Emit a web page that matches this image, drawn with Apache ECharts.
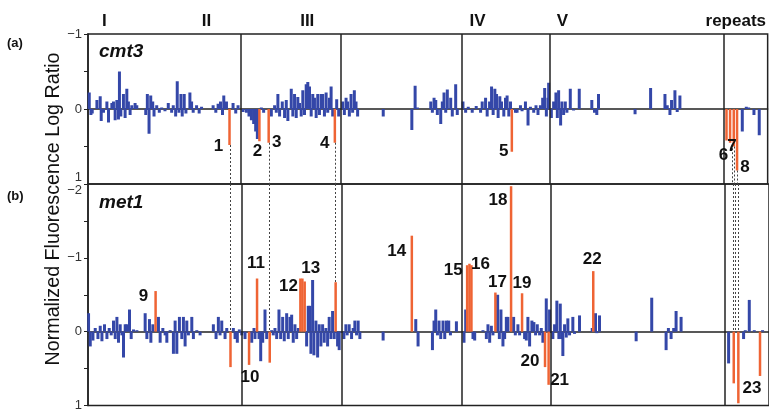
<!DOCTYPE html>
<html><head><meta charset="utf-8">
<script src="https://cdn.jsdelivr.net/npm/echarts@6/dist/echarts.min.js"></script>
<style>html,body{margin:0;padding:0;background:#fff}#c{width:769px;height:412px}</style>
</head><body><div id="c"></div>
<script>
// ---- data (x = position along genome, arbitrary units; y = log ratio) ----
const chromNames = ['I', 'II', 'III', 'IV', 'V', 'repeats'];
const chromLabelPos = [16.5, 119, 220, 391, 476, 650];
const chromBoundaries = [153.3, 253.7, 374.3, 463.3, 637.7];
const yTicksA = [-1, 0, 1];
const yTicksB = [-2, -1, 0, 1];

const cmt3Blue = [
[1,-0.22],[2.7,0.08],[4,0.06],[8.7,-0.12],[12,-0.17],[13,0.16],[15.3,0.05],[18.7,-0.1],[20.3,0.18],[23.7,-0.08],
[25.3,-0.1],[27,0.15],[28.7,-0.12],[30.3,0.14],[31.3,-0.5],[32.7,0.1],[35.3,-0.2],[37,0.12],[38.7,-0.27],[40.3,-0.1],
[42,0.08],[43.7,-0.05],[47,-0.08],[48.7,-0.05],[57.7,0.08],[59.3,-0.2],[61,0.33],[62.7,-0.18],[64.7,-0.1],[66,0.1],
[68.7,-0.05],[71.3,0.05],[73.7,-0.02],[77,0.03],[80.3,-0.08],[83.7,0.05],[85.3,-0.05],[87.7,0.1],[89.3,-0.37],[91,0.05],
[93,-0.2],[94.3,0.1],[96.3,-0.2],[98,0.06],[102,-0.22],[103.7,-0.1],[105.3,0.05],[108.7,-0.05],[111.3,0.06],[113.7,-0.03],
[125.3,-0.05],[128,0.05],[130.3,-0.07],[132.7,-0.1],[134.7,0.08],[136,-0.18],[138.7,-0.1],[145.3,-0.08],[148,0.06],[150.3,-0.05],
[155.3,0.04],[158.7,0.05],[161.3,0.1],[163.7,0.15],[166,0.2],[168,0.3],[169.7,0.4],[173.7,-0.02],[176,0.05],
[183.7,0.1],[187,-0.05],[188.7,0.05],[190.3,-0.2],[192,0.1],[194.7,-0.1],[197,0.12],[198.7,-0.12],[200.3,0.16],[203.7,-0.27],
[205.3,0.1],[207,-0.2],[208.7,0.12],[210.3,-0.16],[212,-0.08],[213.7,0.1],[215.3,-0.25],[217,0.08],[218.7,-0.33],[220.3,-0.36],
[222,-0.3],[223.7,0.1],[225.3,-0.2],[227,-0.15],[228.7,0.12],[230.3,-0.2],[232,0.08],[233.7,-0.2],[235.3,-0.2],[237,0.1],
[238.7,-0.22],[240.3,0.05],[242,-0.15],[243.7,-0.3],[245.3,0.1],[249.3,-0.13],[251.3,0.1],[255.3,-0.1],[257,0.08],[258.7,-0.15],
[260.3,-0.1],[262,0.1],[263.7,-0.2],[265.3,0.05],[267,-0.25],[268.7,-0.1],[270.3,0.1],[296,0.1],[324.7,0.28],[328,-0.31],
[330.3,-0.02],[343.7,-0.1],[345.3,0.05],[347,-0.15],[348.7,-0.12],[350.3,0.08],[353.7,0.2],[355.3,-0.1],[357,-0.22],[358.7,0.05],
[360.3,-0.26],[363.7,-0.15],[365.3,0.1],[368.7,-0.33],[370.3,0.08],[376,-0.1],[378.7,0.05],[381.3,-0.03],[385.3,0.05],[389.3,-0.04],
[393.7,0.05],[395.3,-0.1],[398.7,-0.15],[400.3,0.1],[402.7,-0.1],[404.7,-0.3],[406.3,0.08],[408,-0.27],[409.7,-0.2],[411.3,0.12],
[413,-0.17],[414.7,-0.1],[417,0.1],[418.7,-0.15],[420.3,-0.18],[422,0.1],[423.7,-0.1],[428.7,0.05],[430.3,0.05],[433.7,-0.05],
[435.3,0.03],[438.7,-0.1],[441.3,0.22],[443.7,-0.03],[447,0.05],[449.3,-0.05],[451.3,0.08],[453.7,-0.05],[456,-0.15],[458,-0.28],
[459.7,0.1],[461.3,-0.15],[462,-0.35],[464.7,0.12],[467,-0.1],[469.3,-0.22],[470.7,0.12],[472,-0.25],[474,0.22],[475.3,-0.1],
[477,0.08],[478.7,-0.1],[480.3,0.05],[483.7,-0.27],[487,0.02],[492.7,-0.27],[505.3,-0.12],[508,0.05],[510.3,0.08],[512,-0.2],
[548.7,0.07],[564.3,-0.28],[578.7,-0.2],[581,-0.05],[583.7,0.08],[585.3,-0.12],[588.7,-0.25],[591,0.04],[593.7,-0.18],
[656.3,0.3],[660.3,-0.03],[662.7,-0.02],[668,0.08],[673.3,0.35]
];
const cmt3Orange = [[142,0.48],[172,0.43],[181.3,0.45],[247.7,0.45],[425.3,0.57],[640.7,0.42],[644.3,0.45],[648,0.5],[651.3,0.82]];
const cmt3OrangeLabels = ['1','2','3','4','5','6','7','','8'];

const met1Blue = [
[0.3,-0.25],[2,0.2],[4.7,0.12],[7,-0.05],[9.7,0.1],[12,-0.08],[13.7,0.13],[16.3,-0.1],[18.7,0.1],[21,-0.05],
[23,0.05],[25.3,-0.15],[27,0.1],[28.7,-0.2],[30.3,0.15],[32,-0.1],[33.7,0.05],[35.3,0.35],[37,-0.1],[38.7,-0.1],
[41.3,-0.3],[43,0.1],[45.3,-0.03],[48.7,-0.02],[57,-0.25],[58.7,0.1],[61.3,-0.17],[62.7,0.15],[64.7,-0.1],[70.3,-0.2],
[72,0.15],[74.7,-0.05],[77,0.05],[78.7,0.15],[82,-0.02],[85.3,0.3],[87,-0.15],[88.7,0.3],[91.3,-0.2],[93.7,0.1],
[95.3,-0.2],[97,0.2],[98.7,-0.15],[100.3,0.05],[103.7,-0.2],[105.3,0.1],[108.7,-0.02],[112,0.05],[125.3,-0.1],[128,0.1],
[130.3,-0.2],[132,0.05],[133.7,-0.15],[137,0.1],[138.7,-0.05],[145.3,-0.05],[147,0.1],[149.3,0.15],[151.3,-0.03],
[153.7,0.05],[157,0.1],[163.7,0.15],[166,-0.05],[167,0.1],[171,0.1],[172.7,0.4],[174.7,0.15],[177,-0.3],[178.7,0.1],
[183.7,-0.02],[185.3,0.05],[187,-0.05],[188.7,0.1],[191,-0.3],[192.7,0.1],[194.7,-0.2],[196.3,0.13],[198.7,-0.25],[200.3,0.1],
[202,-0.2],[203.7,-0.23],[205.3,0.15],[207,-0.1],[208.7,0.1],[210.3,-0.05],[218.7,0.2],[220.3,-0.35],[222,-0.35],[223,0.3],
[224.7,-0.7],[226,0.32],[228,-0.15],[229.7,0.35],[231.3,-0.1],[233,0.2],[234.7,-0.1],[236.3,0.15],[238,-0.05],[239.7,0.2],
[241.3,-0.2],[243,0.1],[244.7,-0.28],[246.3,0.1],[249.7,0.2],[251.3,0.25],[256,0.1],[258,-0.1],[259.3,0.05],[261.3,-0.1],
[263.7,0.1],[265.3,-0.05],[267,-0.15],[268.7,0.05],[270.3,-0.15],[272,0.1],[295.3,0.12],[328,-0.17],[330.3,0.2],[344.7,0.25],
[346.3,-0.15],[348,-0.3],[349.7,0.05],[351.3,-0.15],[353,0.1],[355.3,-0.15],[357,0.1],[358.7,-0.15],[361,-0.15],[362.7,0.05],
[368.7,-0.14],[376.3,0.15],[378,-0.3],[385.3,0.1],[387,0.12],[395.3,-0.02],[398.7,0.1],[400.3,-0.1],[402,0.15],[403.7,-0.08],
[405.3,0.05],[410,-0.5],[411.7,0.1],[413.3,-0.3],[415.3,0.2],[417,0.1],[418.7,-0.2],[420.3,-0.2],[426,-0.2],[427.7,0.05],
[430.3,-0.1],[432,0.05],[437,0.1],[438.7,0.12],[440.3,-0.2],[442,0.2],[444.3,-0.15],[446.3,-0.13],[448,0.05],[449.7,-0.1],
[452,0.05],[453.7,-0.05],[455.3,0.15],[458.7,-0.45],[462,-0.3],[465.3,0.1],[467,-0.1],[469.3,-0.42],[471.3,0.1],[472.7,-0.38],
[474,0.1],[475.3,0.33],[477,-0.1],[478.7,0.08],[480.3,-0.18],[482,0.05],[485.3,-0.2],[487,0.03],[492,-0.22],[504.7,-0.05],
[508,-0.25],[509.3,0.02],[512,-0.22],[548.7,0.13],[564.3,-0.46],[578.7,0.25],[581,-0.05],[583.7,0.1],[586.3,-0.05],[588.7,-0.28],
[593.7,-0.2],[641.3,0.43],[656.3,0.1],[658,-0.02],[662,-0.43],[667,-0.02],[675.3,-0.02]
];
const met1Orange = [[67.7,-0.55],[142.7,0.48],[161.3,0.45],[169.3,-0.72],[182,0.42],[212.7,-0.72],[214.7,-0.72],[217,-0.68],
[248,-0.67],[324.3,-1.3],[379.7,-0.9],[382,-0.92],[384,-0.9],[408,-0.53],[423.7,-1.97],[434.7,-0.52],[457.7,0.48],[461.3,0.72],
[506,-0.82],[646.7,0.7],[651.3,0.97],[673,0.6]];
const met1OrangeLabels = ['9','','10','11','','12','','13','','14','15','16','','17','18','19','20','21','22','','','23'];

// dashed connectors: [position, cmt3 start value, met1 end value]
const connectors = [[142.5,0.48,0],[181.7,0.45,0],[247.8,0.45,-0.67],[646.4,0.47,0],[648.7,0.5,0],[651,0.82,0]];

// ---- layout / style ----
const BLUE = '#3447a8', ORANGE = '#ef6434', INK = '#111';
const FONT = '"Liberation Sans", Arial, sans-serif';
const labelOffset = {
  '1':[-11,1],'2':[-2,10],'3':[8,0],'4':[-10,1],'5':[-8,0],'6':[-3,15],'7':[2,4],'8':[8,-3],
  '9':[-12,5],'10':[1,12],'11':[-1,-15],'12':[-12,8],'13':[6,-13],'14':[-15,16],'15':[-14,5],'16':[11,1],
  '17':[2,-10],'18':[-13,14],'19':[0,-10],'20':[-15,-6],'21':[11,-5],'22':[-1,-12],'23':[-8,12]
};
const minus = v => (v < 0 ? '\u2212' + Math.abs(v) : String(v));

function xAx(grid) {
  return { gridIndex: grid, type: 'value', min: 0, max: 682,
    axisLine: { show: true, onZero: true, lineStyle: { color: '#222', width: 1.5 } },
    axisTick: { show: false }, axisLabel: { show: false }, splitLine: { show: false } };
}
function yAx(grid, min, max, ticks, vAlign) {
  return { gridIndex: grid, type: 'value', min: min, max: max, interval: 0.5, inverse: true,
    axisLine: { show: true, lineStyle: { color: '#222', width: 1.5 } },
    axisTick: { show: true, length: 4, lineStyle: { color: '#222' } },
    splitLine: { show: false },
    axisLabel: Object.assign({ margin: 6, color: '#333', fontSize: 13, fontFamily: FONT,
      formatter: v => (ticks.indexOf(v) >= 0 ? minus(v) : '') }, vAlign) };
}
function sepLines() {
  return { silent: true, symbol: 'none', label: { show: false },
    lineStyle: { color: '#222', width: 1.5, type: 'solid' },
    data: chromBoundaries.map(x => ({ xAxis: x })) };
}
function labelSeries(grid, bars, names) {
  const data = [];
  bars.forEach((b, i) => { if (names[i]) data.push({ value: b, name: names[i] }); });
  return { type: 'scatter', xAxisIndex: grid, yAxisIndex: grid, symbolSize: 0, silent: true, z: 5,
    itemStyle: { opacity: 1 },
    data: data.map(d => ({ value: d.value, label: { show: true, position: 'inside', offset: labelOffset[d.name],
      formatter: d.name, color: INK, opacity: 1, fontSize: 17, fontWeight: 'bold', fontFamily: FONT,
      textBorderWidth: 0, textBorderColor: 'transparent' } })) };
}
const dashStyle = { color: '#444', width: 1, type: [2, 2] };

const option = {
  animation: false,
  backgroundColor: '#fff',
  grid: [
    { left: 88, top: 34, width: 682, height: 150, show: true, borderColor: '#222', borderWidth: 1.5, backgroundColor: 'transparent' },
    { left: 88, top: 184, width: 682, height: 225, show: true, borderColor: '#222', borderWidth: 1.5, backgroundColor: 'transparent' }
  ],
  xAxis: [
    xAx(0), xAx(1),
    { gridIndex: 0, type: 'value', position: 'top', min: 0, max: 682,
      axisLine: { show: false, onZero: false }, axisTick: { show: false }, splitLine: { show: false },
      axisLabel: { show: true, customValues: chromLabelPos, margin: 4, color: INK, fontSize: 17, fontWeight: 'bold',
        fontFamily: FONT,
        formatter: v => { const i = chromLabelPos.indexOf(v); return i >= 0 ? chromNames[i] : ''; } } }
  ],
  yAxis: [
    yAx(0, -1, 1, yTicksA, { verticalAlignMaxLabel: 'bottom' }),
    yAx(1, -2, 1, yTicksB, { verticalAlignMinLabel: 'top' })
  ],
  series: [
    { type: 'bar', xAxisIndex: 0, yAxisIndex: 0, barWidth: 3, barGap: '-100%', itemStyle: { color: BLUE },
      data: cmt3Blue, markLine: sepLines() },
    { type: 'bar', xAxisIndex: 0, yAxisIndex: 0, barWidth: 2.5, barGap: '-100%', itemStyle: { color: ORANGE }, z: 3,
      data: cmt3Orange,
      markLine: { silent: true, symbol: 'none', label: { show: false }, lineStyle: dashStyle,
        data: connectors.map(c => [{ coord: [c[0], c[1]] }, { coord: [c[0], 1] }]) } },
    { type: 'bar', xAxisIndex: 1, yAxisIndex: 1, barWidth: 3, barGap: '-100%', itemStyle: { color: BLUE },
      data: met1Blue, markLine: sepLines() },
    { type: 'bar', xAxisIndex: 1, yAxisIndex: 1, barWidth: 2.5, barGap: '-100%', itemStyle: { color: ORANGE }, z: 3,
      data: met1Orange,
      markLine: { silent: true, symbol: 'none', label: { show: false }, lineStyle: dashStyle,
        data: connectors.map(c => [{ coord: [c[0], -2] }, { coord: [c[0], c[2]] }]) } },
    labelSeries(0, cmt3Orange, cmt3OrangeLabels),
    labelSeries(1, met1Orange, met1OrangeLabels)
  ],
  graphic: [
    { type: 'text', left: 7, top: 37, style: { text: '(a)', font: 'bold 13px ' + FONT, fill: INK } },
    { type: 'text', left: 7, top: 190, style: { text: '(b)', font: 'bold 13px ' + FONT, fill: INK } },
    { type: 'text', left: 99, top: 42, style: { text: 'cmt3', font: 'italic bold 19px ' + FONT, fill: INK } },
    { type: 'text', left: 99, top: 193, style: { text: 'met1', font: 'italic bold 19px ' + FONT, fill: INK } },
    { type: 'text', x: 54, y: 209, rotation: Math.PI / 2,
      style: { text: 'Normalized Fluorescence Log Ratio', font: '19.7px ' + FONT, fill: INK,
        align: 'center', verticalAlign: 'middle' } }
  ]
};
echarts.init(document.getElementById('c'), null, { renderer: 'canvas' }).setOption(option);
</script></body></html>
